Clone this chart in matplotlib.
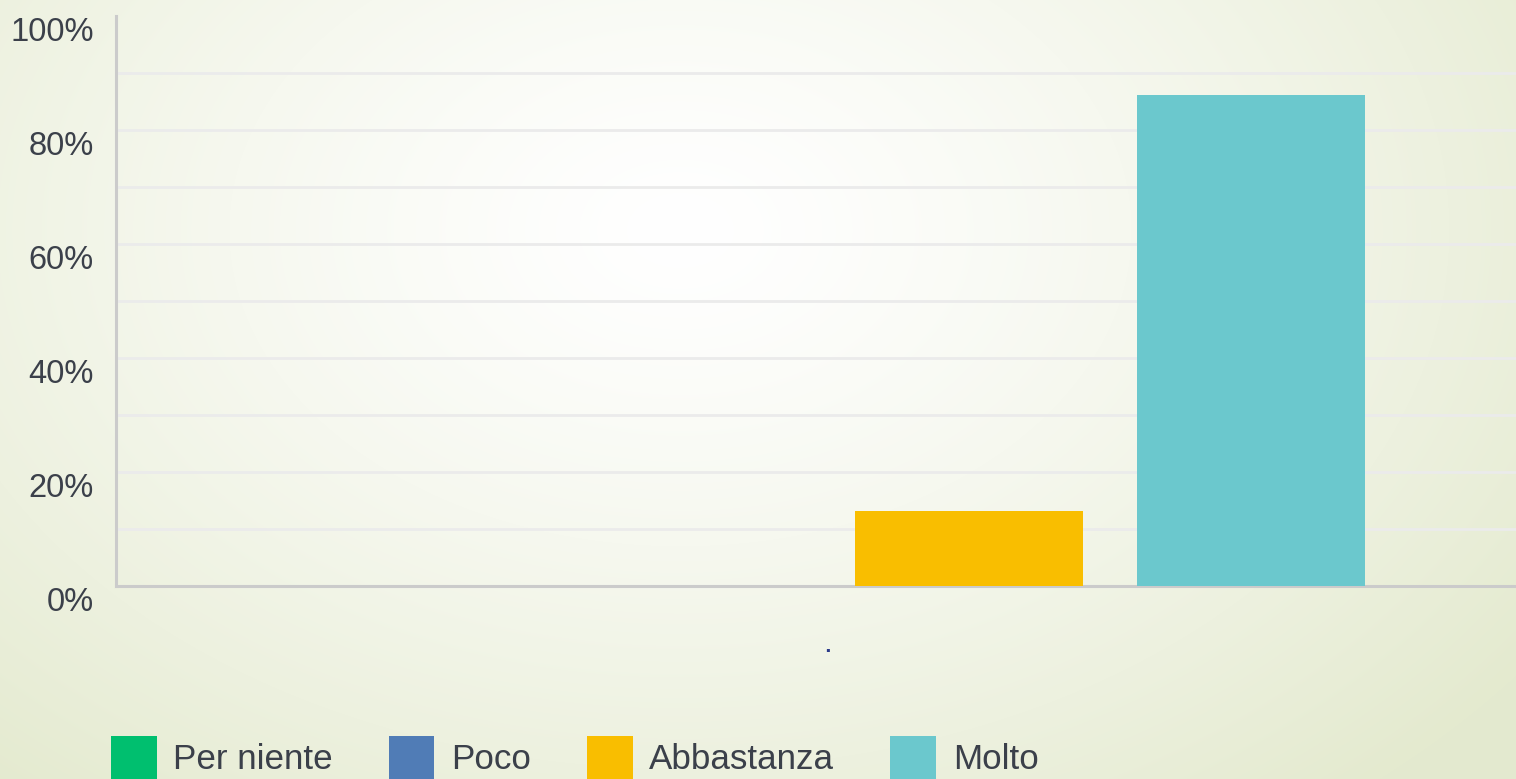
import numpy as np
import matplotlib
matplotlib.use('Agg')
import matplotlib.pyplot as plt
from matplotlib.transforms import ScaledTranslation
from matplotlib.patches import Patch

# Dati del grafico
categoria = ['.']
serie = ['Per niente', 'Poco', 'Abbastanza', 'Molto']
valori = [0.0, 0.0, 13.2, 86.1]
colori = ['#00BF6F', '#507CB6', '#F9BE00', '#6BC8CD']
tick_y = [0, 20, 40, 60, 80, 100]
etichette_y = ['0%', '20%', '40%', '60%', '80%', '100%']
griglia_y = [10, 20, 30, 40, 50, 60, 70, 80, 90]

plt.rcParams['font.family'] = ['Liberation Sans', 'DejaVu Sans']
colore_testo = '#3b404a'

W, H = 1516, 779
fig = plt.figure(figsize=(W / 100, H / 100), dpi=100)

# Sfondo sfumato (radiale, bianco al centro -> verde chiaro ai bordi)
bg = fig.add_axes([0, 0, 1, 1], zorder=-10)
yy, xx = np.mgrid[0:H, 0:W]
d = np.sqrt(((xx - 680) / 1000.0) ** 2 + ((yy - 230) / 700.0) ** 2)
t = np.clip(d / 1.05, 0, 1) ** 1.3
c0 = np.array([1.0, 1.0, 1.0])
c1 = np.array([0xe4, 0xea, 0xcf]) / 255.0
img = c0[None, None, :] * (1 - t[..., None]) + c1[None, None, :] * t[..., None]
bg.imshow(img, aspect='auto', extent=[0, 1, 0, 1], origin='upper')
bg.axis('off')

# Area del grafico (in pixel della figura)
sx, ex = 116, 1540
y0, y1 = 586, 16
ax = fig.add_axes([sx / W, (H - y0) / H, (ex - sx) / W, (y0 - y1) / H])
ax.patch.set_alpha(0)

n = len(serie)
passo = 0.198
larg = 0.16
for i, (s, v, c) in enumerate(zip(serie, valori, colori)):
    pos = (i - (n - 1) / 2) * passo
    ax.bar(pos, v, width=larg, color=c, label=s, zorder=3)

ax.set_xlim(-0.5, 0.5)
ax.set_ylim(0, 100)
ax.hlines(griglia_y, -0.5, 0.5, colors='#ebebeb', linewidth=2.0, zorder=1)

ax.set_yticks(tick_y)
ax.set_yticklabels(etichette_y)
ax.set_xticks([0])
ax.set_xticklabels(categoria)
ax.tick_params(axis='y', length=0, pad=16, labelsize=23.5, labelcolor=colore_testo)
ax.tick_params(axis='x', length=0, pad=31, labelsize=23, labelcolor='#2b3a8a')

spost = ScaledTranslation(0, -13 / 100, fig.dpi_scale_trans)
for lab in ax.get_yticklabels():
    lab.set_transform(lab.get_transform() + spost)

for lato in ['top', 'right']:
    ax.spines[lato].set_visible(False)
for lato in ['left', 'bottom']:
    ax.spines[lato].set_color('#cbcbcb')
    ax.spines[lato].set_linewidth(2.2)

# Legenda in basso (tagliata dal bordo inferiore come nell'originale)
maniglie = [Patch(facecolor=c, edgecolor='none') for c in colori]
leg = fig.legend(maniglie, serie, loc='upper left', bbox_to_anchor=(111 / W, 1 - 736 / H),
                 ncol=4, frameon=False, fontsize=25.2, handlelength=1.3, handleheight=1.5,
                 handletextpad=0.48, columnspacing=1.6, borderaxespad=0, borderpad=0)
for tx in leg.get_texts():
    tx.set_color(colore_testo)

fig.savefig('out.png', dpi=100)
